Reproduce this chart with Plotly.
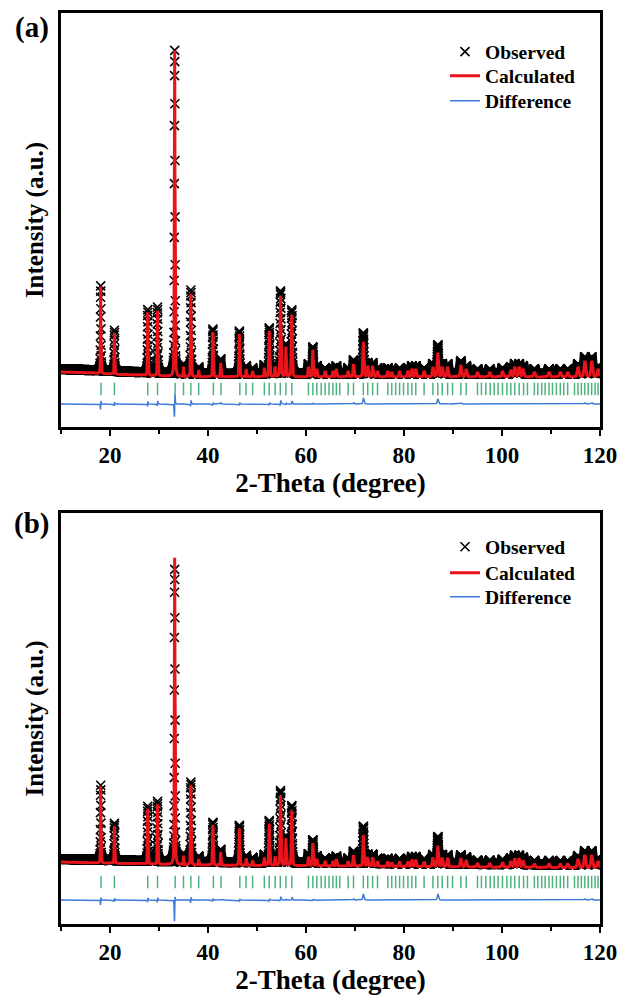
import numpy as np
import plotly.graph_objects as go

# 2-theta scan grid (degrees)
step = 0.02
tth = np.round(np.arange(10, 120 + step / 2, step), 2)

# reflection positions (Bragg tick marks), same phase in both refinements
bragg_pos = [18.16, 20.9, 27.7, 29.7, 33.3, 35.0, 36.5, 38.1, 41.1, 42.65,
             46.5, 47.75, 49.1, 51.5, 52.5, 53.7, 54.75, 55.9, 57.1,
             60.5, 61.4, 62.2, 63.1, 63.9, 64.7, 65.5, 66.2, 66.9,
             68.6, 69.7, 71.7, 72.6, 73.6, 74.6, 76.7, 77.5, 78.3, 79.1,
             79.9, 80.8, 81.6, 82.4, 84.1, 85.9, 86.9, 87.8, 88.9, 89.9,
             91.6, 92.7, 95.0, 95.8, 96.7, 97.6, 98.4, 99.2, 100.1, 101.0,
             101.8, 102.6, 103.5, 104.4, 105.2, 106.6, 107.3, 108.1, 108.8,
             109.6, 110.3, 111.1, 111.9, 112.6, 113.4, 114.8, 115.5, 116.2,
             116.9, 117.6, 118.3, 119.0, 119.6]

# peaks: position and heights above background (a.u.), observed / calculated
peak_pos = [18.1, 20.9, 27.7, 29.7, 33.2, 35.0, 36.5, 38.1, 41.0, 42.6,
            46.4, 47.8, 49.1, 51.5, 52.5, 53.7, 54.8, 55.9, 57.1, 60.5,
            61.4, 62.2, 63.9, 65.5, 66.2, 68.6, 69.7, 71.7, 72.6, 73.6,
            74.6, 76.7, 77.5, 79.1, 80.8, 81.6, 82.4, 84.1, 85.9, 86.9,
            87.8, 88.9, 91.6, 92.7, 95.0, 97.5, 100.1, 101.8, 102.6, 103.5,
            104.3, 106.6, 109.6, 111.9, 113.4, 115.5, 116.9, 118.3, 119.6]
obs_a = [85, 41, 63, 66, 324, 10, 84, 7, 45, 15,
         43, 8, 6, 9, 46, 10, 83, 30, 64, 10,
         27, 8, 6, 6, 8, 6, 14, 41, 11, 11,
         6, 6, 5, 6, 6, 8, 8, 6, 10, 29,
         10, 10, 13, 8, 5, 5, 6, 7, 10, 10,
         8, 5, 5, 5, 5, 10, 17, 17, 8]
calc_a = [87, 41, 63, 65, 326, 10, 83, 7, 45, 14,
          43, 8, 6, 9, 46, 10, 81, 30, 62, 10,
          27, 8, 6, 6, 8, 6, 13, 35, 11, 11,
          6, 6, 5, 6, 6, 8, 8, 6, 10, 24,
          10, 10, 12, 8, 5, 5, 6, 7, 10, 10,
          8, 5, 5, 5, 5, 10, 16, 16, 8]
obs_b = [75, 37, 55, 60, 293, 9, 80, 6, 40, 13,
         37, 7, 5, 8, 42, 9, 72, 27, 57, 9,
         23, 7, 5, 5, 7, 5, 12, 37, 9, 9,
         5, 5, 4, 5, 5, 7, 7, 5, 9, 27,
         9, 9, 9, 7, 4, 4, 5, 6, 9, 9,
         7, 4, 4, 4, 4, 9, 14, 14, 7]
calc_b = [77, 37, 55, 60, 307, 9, 80, 6, 40, 13,
          37, 7, 5, 8, 42, 9, 70, 27, 55, 9,
          23, 7, 5, 5, 7, 5, 11, 31, 9, 9,
          5, 5, 4, 5, 5, 7, 7, 5, 9, 21,
          9, 9, 9, 7, 4, 4, 5, 6, 9, 9,
          7, 4, 4, 4, 4, 9, 13, 13, 7]

# background anchor points
bg_x = [10, 35, 120]
bg_a = [55, 50, 50]
bg_b = [62, 59, 56]


def pattern(heights, bg, shift=0.0):
    y = np.interp(tth, bg_x, bg).astype(float)
    for p, h in zip(peak_pos, heights):
        w = 0.09 + 0.0025 * (p - 10)
        d = (tth - p - shift) / w
        y += h * (0.6 * np.exp(-4 * np.log(2) * d ** 2) + 0.4 / (1 + 4 * d ** 2))
    return y


serif = "Liberation Serif, Times New Roman, serif"
red = "#e8141c"
blue = "#3b7ad9"
green = "#4db37e"

# one legend per entry so the rows sit where the reference has them
panels = [
    dict(obs=obs_a, calc=calc_a, bg=bg_a, xa="x", ya="y", legs=["legend", "legend2", "legend3"],
         tick_y=38, diff_y=20),
    dict(obs=obs_b, calc=calc_b, bg=bg_b, xa="x2", ya="y2", legs=["legend4", "legend5", "legend6"],
         tick_y=42, diff_y=21),
]

fig = go.Figure()
for pnl in panels:
    calc = pattern(pnl["calc"], pnl["bg"])
    obs = pattern(pnl["obs"], [b + 3 for b in pnl["bg"]], shift=0.004)
    diff = obs - calc + pnl["diff_y"]
    fig.add_trace(go.Scatter(x=tth, y=obs, mode="markers", name="Observed",
                             marker=dict(symbol="x-thin", size=9, color="black",
                                         line=dict(width=1.6, color="black")),
                             xaxis=pnl["xa"], yaxis=pnl["ya"], legend=pnl["legs"][0]))
    fig.add_trace(go.Scatter(x=tth, y=calc, mode="lines", name="Calculated",
                             line=dict(color=red, width=3),
                             xaxis=pnl["xa"], yaxis=pnl["ya"], legend=pnl["legs"][1]))
    fig.add_trace(go.Scatter(x=tth, y=diff, mode="lines", name="Difference",
                             line=dict(color=blue, width=1.5),
                             xaxis=pnl["xa"], yaxis=pnl["ya"], legend=pnl["legs"][2]))
    fig.add_trace(go.Scatter(x=bragg_pos, y=[pnl["tick_y"]] * len(bragg_pos),
                             mode="markers", showlegend=False,
                             marker=dict(symbol="line-ns", size=9,
                                         line=dict(width=1.5, color=green)),
                             xaxis=pnl["xa"], yaxis=pnl["ya"]))

xax = dict(range=[10, 120], tick0=0, dtick=20, ticks="outside", ticklen=6,
           tickwidth=2, tickcolor="black", showline=True, linewidth=2.5,
           linecolor="black", mirror=True, showgrid=False, zeroline=False,
           minor=dict(dtick=10, ticks="outside", ticklen=4, tickwidth=2, tickcolor="black"),
           tickfont=dict(family=serif, size=23, color="black", weight="bold"),
           title=dict(text="2-Theta (degree)", standoff=1,
                      font=dict(family=serif, size=27, color="black", weight="bold")))
yax = dict(showticklabels=False, ticks="", showline=True, linewidth=2.5,
           linecolor="black", mirror=True, showgrid=False, zeroline=False,
           title=dict(text="Intensity (a.u.)", standoff=8,
                      font=dict(family=serif, size=25, color="black", weight="bold")))

legfont = dict(family=serif, size=19.5, color="black", weight="bold")
leg_x = 0.7124
leg_rows = [0.9572, 0.9308, 0.9034, 0.4138, 0.3853, 0.3589]
legends = {}
for i, ly in enumerate(leg_rows):
    key = "legend" if i == 0 else f"legend{i + 1}"
    legends[key] = dict(x=leg_x, y=ly, xanchor="left", yanchor="middle", font=legfont,
                        bgcolor="rgba(0,0,0,0)", borderwidth=0)

panel_font = dict(family=serif, size=29, color="black", weight="bold")
fig.update_layout(
    width=621, height=996,
    margin=dict(l=61, r=21, t=13, b=72, autoexpand=False),
    paper_bgcolor="white", plot_bgcolor="white",
    xaxis=dict(xax, anchor="y"),
    yaxis=dict(yax, domain=[0.5456, 1.0], range=[0, 414], anchor="x"),
    xaxis2=dict(xax, anchor="y2"),
    yaxis2=dict(yax, domain=[0.0, 0.4512], range=[0, 411], anchor="x2"),
    annotations=[
        dict(text="(a)", x=-0.0547, y=0.9846, xref="paper", yref="paper",
             xanchor="center", yanchor="middle", showarrow=False, font=panel_font),
        dict(text="(b)", x=-0.0547, y=0.4391, xref="paper", yref="paper",
             xanchor="center", yanchor="middle", showarrow=False, font=panel_font),
    ],
    **legends,
)

fig.write_html("out.html", config={"displayModeBar": False},
               post_script="document.body.style.margin='0px';")
